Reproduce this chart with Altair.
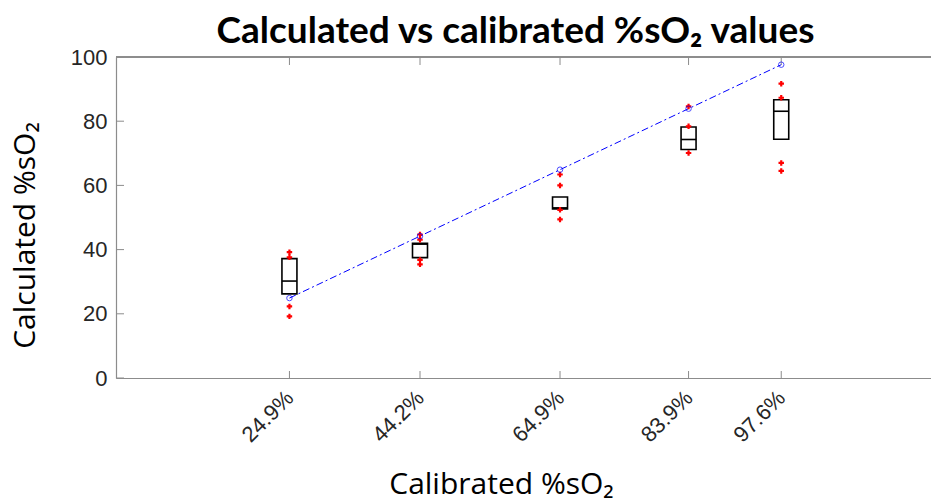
import altair as alt
import pandas as pd

# --- data -------------------------------------------------------------------
categories = [24.9, 44.2, 64.9, 83.9, 97.6]          # calibrated %sO2
box_q1 = [26.2, 37.5, 52.7, 71.2, 74.4]
box_median = [30.2, 41.7, 53.0, 74.3, 83.1]
box_q3 = [37.2, 42.0, 56.4, 78.2, 86.7]
outliers_24 = [39.2, 37.6, 22.3, 19.2]
outliers_44 = [44.7, 43.1, 36.8, 35.4]
outliers_65 = [63.4, 60.0, 52.4, 49.4]
outliers_84 = [84.6, 78.4, 70.1]
outliers_98 = [91.7, 87.3, 67.0, 64.5]
y_ticks = [0, 20, 40, 60, 80, 100]

boxes = pd.DataFrame({"cal": categories, "q1": box_q1, "med": box_median, "q3": box_q3})
out_rows = []
for c, vals in zip(categories, [outliers_24, outliers_44, outliers_65, outliers_84, outliers_98]):
    for v in vals:
        out_rows.append({"cal": c, "v": v})
outs = pd.DataFrame(out_rows)
ideal = pd.DataFrame({"cal": categories, "v": categories})
yt = pd.DataFrame({"v": y_ticks})

W, H = 815, 321
GRAY = "#8c8c8c"
LAB = "#262626"

xscale = alt.Scale(domain=[0, 119], nice=False, zero=False)
yscale = alt.Scale(domain=[0, 100], nice=False)

xaxis = alt.Axis(
    values=categories, labelExpr="format(datum.value, '.1f') + '%'",
    labelAngle=315, labelAlign="right", labelBaseline="middle", labelPadding=16,
    labelFont="Liberation Sans", labelFontSize=22, labelColor=LAB,
    ticks=False, grid=False, domainColor=GRAY, domainWidth=1.2,
    title="Calibrated %sO₂", titleFont="Open Sans", titleFontSize=30, titleFontWeight="normal",
    titleColor="black", titleX=385, titleY=115, titleBaseline="alphabetic", titleAnchor="start",
    titleAlign="center",
)
yaxis = alt.Axis(
    values=y_ticks, labelFont="Liberation Sans", labelFontSize=22, labelColor=LAB,
    labelPadding=9, ticks=False, grid=False, domainColor=GRAY, domainWidth=1.2,
    title="Calculated %sO₂", titleFont="Open Sans", titleFontSize=30, titleFontWeight="normal",
    titleColor="black", titleX=-82, titleY=178, titleAngle=270, titleBaseline="alphabetic",
    titleAlign="center",
)

X = alt.X("cal:Q", scale=xscale, axis=xaxis)
Y = alt.Y("v:Q", scale=yscale, axis=yaxis)

line = alt.Chart(ideal).mark_line(color="#0000ff", strokeWidth=1, strokeDash=[7, 3, 2, 3]).encode(x=X, y=Y)
circles = alt.Chart(ideal).mark_point(shape="circle", color="#0000ff", size=30, strokeWidth=1, filled=False).encode(x=X, y=Y)

box = alt.Chart(boxes).mark_bar(size=15, fill="white", fillOpacity=0, stroke="black", strokeWidth=1.6).encode(
    x=alt.X("cal:Q", scale=xscale, axis=xaxis),
    y=alt.Y("q1:Q", scale=yscale, axis=yaxis),
    y2="q3:Q",
)
med = alt.Chart(boxes).mark_rule(color="black", strokeWidth=1.6, xOffset=-7.5, x2Offset=7.5).encode(
    x=alt.X("cal:Q", scale=xscale, axis=xaxis),
    x2="cal:Q",
    y=alt.Y("med:Q", scale=yscale, axis=yaxis),
)
pts = alt.Chart(outs).mark_point(shape="cross", filled=True, color="#ff0000", size=30, opacity=1).encode(x=X, y=Y)

top_line = alt.Chart(yt).mark_rule(color=GRAY, strokeWidth=1.2).encode(y=alt.datum(100, scale=yscale))
left_ticks = alt.Chart(yt).mark_rule(color=GRAY, strokeWidth=1).encode(
    x=alt.value(0), x2=alt.value(8), y=alt.Y("v:Q", scale=yscale, axis=yaxis))
bot_ticks = alt.Chart(ideal).mark_rule(color=GRAY, strokeWidth=1).encode(
    x=X, y=alt.value(H), y2=alt.value(H - 7))
top_ticks = alt.Chart(ideal).mark_rule(color=GRAY, strokeWidth=1).encode(
    x=X, y=alt.value(0), y2=alt.value(8))

chart = alt.layer(
    top_line, left_ticks, bot_ticks, top_ticks, line, box, med, pts, circles
).properties(
    width=W, height=H,
    title=alt.TitleParams(
        "Calculated vs calibrated %sO₂ values", font="Lato", fontSize=37, fontWeight="bold",
        color="black", anchor="middle", dx=-8, offset=-5,
    ),
    autosize=alt.AutoSizeParams(type="none"),
    padding={"left": 116, "top": 57, "right": 0, "bottom": 126},
).configure_view(stroke=None).configure(background="white")

chart.save("out.html", embed_options={"renderer": "svg", "actions": False})
